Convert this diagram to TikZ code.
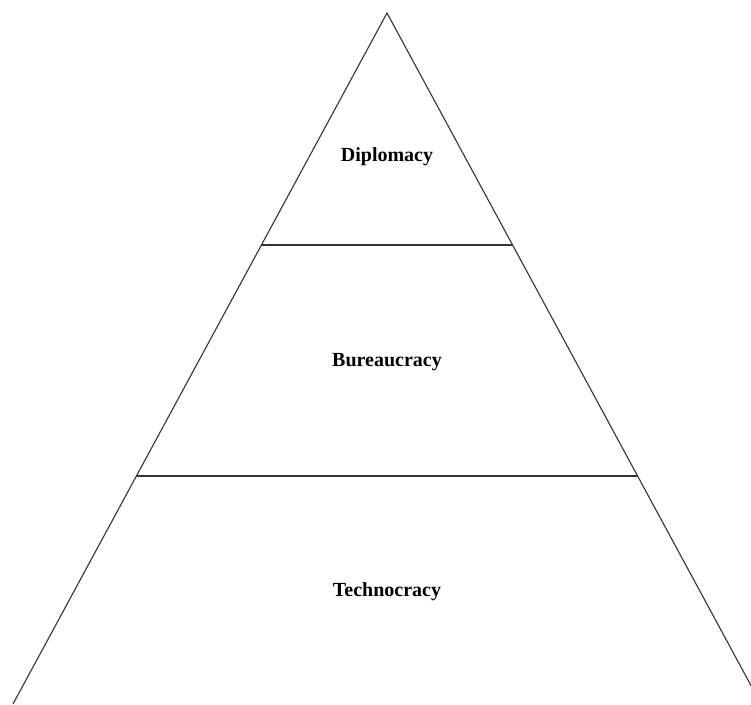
\documentclass[tikz,border=0pt]{standalone}
\usepackage{fontspec}
\setmainfont{Liberation Serif}

\newcommand*{\picw}{751}
\newcommand*{\pich}{704}

\begin{document}
\begin{tikzpicture}
[
	x=1pt,
	y=-1pt,
	edge/.style={line width=1.1pt,black!80},
	tier/.style={font=\bfseries\fontsize{20}{24}\selectfont,inner sep=0pt}
]

	% frame
	\useasboundingbox (0,0) rectangle (\picw,\pich);
	\clip (0,0) rectangle (\picw,\pich);

	% corners
	\coordinate (apex) at (387,13);
	\coordinate (bl) at (13,704);
	\coordinate (br) at (761,704);

	% divider ends
	\coordinate (ul) at (261.4,245);
	\coordinate (ur) at (512.6,245);
	\coordinate (ll) at (136.4,476);
	\coordinate (lr) at (637.6,476);

	% outline
	\draw[edge,line join=miter] (bl) -- (apex) -- (br);

	% dividers
	\draw[edge]
	  (ul) -- (ur)
	  (ll) -- (lr)
	;

	% tier labels
	\node[tier] (top) at (387,157) {Diplomacy};
	\node[tier] (mid) at (387,362) {Bureaucracy};
	\node[tier] (bot) at (387,592) {Technocracy};

\end{tikzpicture}
\end{document}
